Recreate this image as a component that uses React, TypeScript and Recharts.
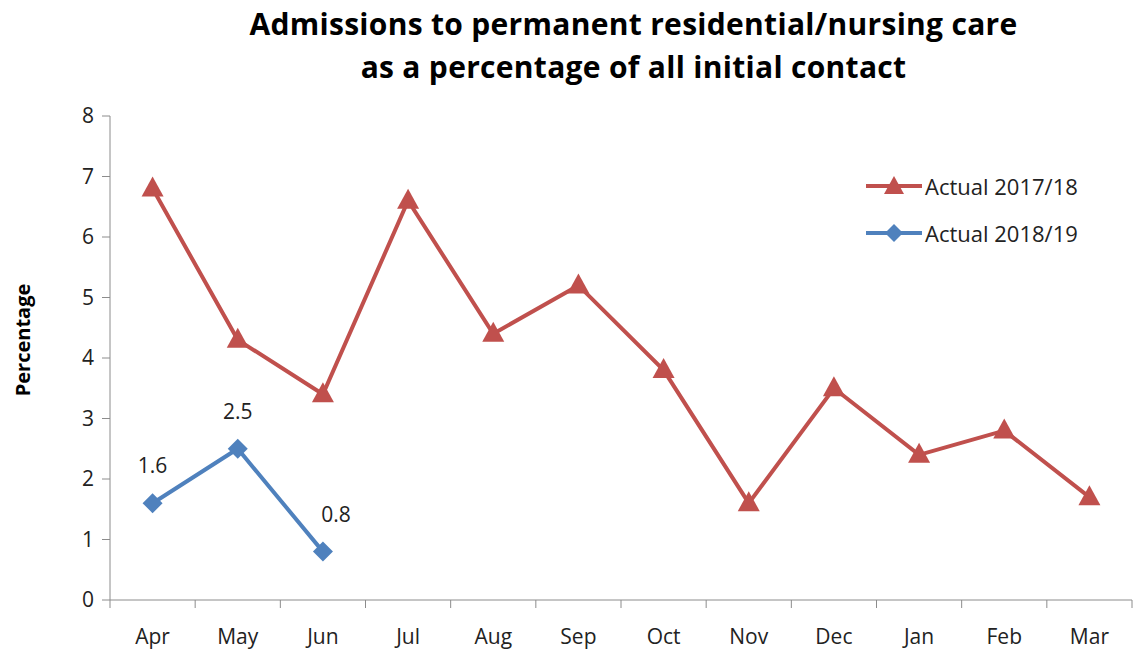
import { LineChart, Line, XAxis, YAxis, LabelList } from 'recharts';

const months = ['Apr', 'May', 'Jun', 'Jul', 'Aug', 'Sep', 'Oct', 'Nov', 'Dec', 'Jan', 'Feb', 'Mar'];
const actual1718 = [6.8, 4.3, 3.4, 6.6, 4.4, 5.2, 3.8, 1.6, 3.5, 2.4, 2.8, 1.7];
const actual1819: (number | null)[] = [1.6, 2.5, 0.8, null, null, null, null, null, null, null, null, null];
const yTicks = [0, 1, 2, 3, 4, 5, 6, 7, 8];

const RED = '#C0504D';
const BLUE = '#4F81BD';
const AXIS = '#8C8C8C';
const FONT = '"Open Sans", sans-serif';

const W = 1139;
const H = 655;
const PLOT_LEFT = 110;
const PLOT_RIGHT = 1132;
const HALF_BAND = (PLOT_RIGHT - PLOT_LEFT) / months.length / 2;

const data = months.map((m, i) => ({
  month: m,
  'Actual 2017/18': actual1718[i],
  'Actual 2018/19': actual1819[i],
}));

const Triangle = (props: any) => {
  const { cx, cy } = props;
  if (cx == null || cy == null) return null;
  return <path d={`M${cx},${cy - 12} L${cx + 11},${cy + 8} L${cx - 11},${cy + 8} Z`} fill={RED} />;
};

const Diamond = (props: any) => {
  const { cx, cy } = props;
  if (cx == null || cy == null) return null;
  return <path d={`M${cx},${cy - 10} L${cx + 10},${cy} L${cx},${cy + 10} L${cx - 10},${cy} Z`} fill={BLUE} />;
};

// category label, with the tick mark drawn on the band boundary
const MonthTick = (props: any) => {
  const { x, y, payload, index } = props;
  const last = index === months.length - 1;
  return (
    <g>
      <line x1={x - HALF_BAND} y1={y - 8} x2={x - HALF_BAND} y2={y} stroke={AXIS} />
      {last && <line x1={x + HALF_BAND} y1={y - 8} x2={x + HALF_BAND} y2={y} stroke={AXIS} />}
      <text x={x} y={y + 36} textAnchor="middle" fontSize={21} fontFamily={FONT} fill="#222">
        {payload.value}
      </text>
    </g>
  );
};

// last point label sits a little to the right
const ValueLabel = (props: any) => {
  const { x, y, value, index } = props;
  if (value == null) return null;
  const dx = index === 2 ? 13 : 0;
  return (
    <text x={x + dx} y={y - 30} textAnchor="middle" fontSize={21} fontFamily={FONT} fill="#222">
      {value}
    </text>
  );
};

const legendItems = [
  { label: 'Actual 2017/18', color: RED, marker: 'tri' },
  { label: 'Actual 2018/19', color: BLUE, marker: 'dia' },
];

export default function App() {
  return (
    <div style={{ position: 'absolute', left: 0, top: 0, width: W, height: H, background: '#fff', fontFamily: FONT }}>
      <div style={{ position: 'absolute', top: 2, left: 0, width: 1267, textAlign: 'center', fontSize: 30, fontWeight: 700, lineHeight: '43px', color: '#000', letterSpacing: 0.3 }}>
        Admissions to permanent residential/nursing care
        <br />
        as a percentage of all initial contact
      </div>
      <div style={{ position: 'absolute', left: 22, top: 340, transform: 'translate(-50%, -50%) rotate(-90deg)', fontSize: 20, fontWeight: 700, whiteSpace: 'nowrap' }}>
        Percentage
      </div>
      <LineChart width={W} height={H} data={data} margin={{ top: 116, right: W - PLOT_RIGHT, bottom: 15, left: 40 }}>
        <XAxis
          dataKey="month"
          stroke={AXIS}
          tickLine={false}
          tick={<MonthTick />}
          height={40}
          interval={0}
          padding={{ left: HALF_BAND, right: HALF_BAND }}
        />
        <YAxis
          domain={[0, 8]}
          ticks={yTicks}
          stroke={AXIS}
          tickSize={8}
          tick={{ fontSize: 21, fill: '#222', fontFamily: FONT, dx: -6 }}
          width={PLOT_LEFT - 40}
          interval={0}
        />
        <Line
          dataKey="Actual 2017/18"
          stroke={RED}
          strokeWidth={4}
          dot={<Triangle />}
          activeDot={false}
          isAnimationActive={false}
        />
        <Line
          dataKey="Actual 2018/19"
          stroke={BLUE}
          strokeWidth={4}
          dot={<Diamond />}
          activeDot={false}
          isAnimationActive={false}
        >
          <LabelList dataKey="Actual 2018/19" content={<ValueLabel />} />
        </Line>
      </LineChart>
      <div style={{ position: 'absolute', left: 866, top: 162 }}>
        {legendItems.map(d => (
          <div key={d.label} style={{ display: 'flex', alignItems: 'center', height: 47 }}>
            <svg width={58} height={24}>
              <line x1={0} y1={12} x2={56} y2={12} stroke={d.color} strokeWidth={4} />
              {d.marker === 'tri'
                ? <path d="M28,2 L38,20 L18,20 Z" fill={d.color} />
                : <path d="M28,3 L37,12 L28,21 L19,12 Z" fill={d.color} />}
            </svg>
            <span style={{ fontSize: 22, color: '#222', marginLeft: 1 }}>{d.label}</span>
          </div>
        ))}
      </div>
    </div>
  );
}
